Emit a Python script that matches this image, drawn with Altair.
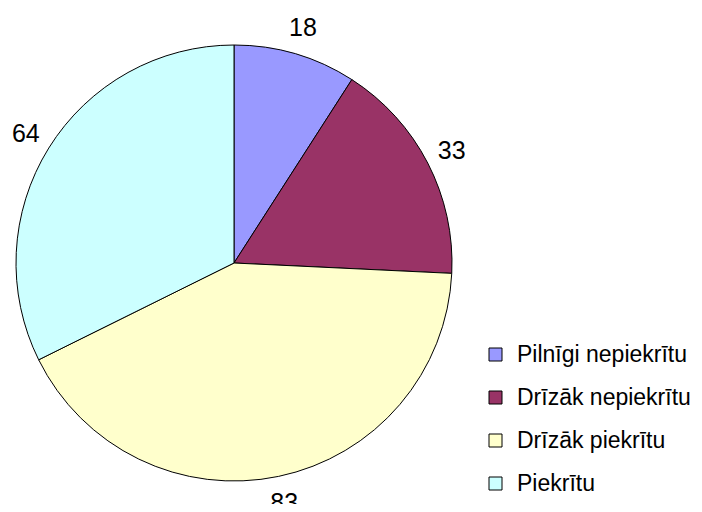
import altair as alt
import pandas as pd

categories = ["Pilnīgi nepiekrītu", "Drīzāk nepiekrītu", "Drīzāk piekrītu", "Piekrītu"]
values = [18, 33, 83, 64]
colors = ["#9999FF", "#993366", "#FFFFCC", "#CCFFFF"]

df = pd.DataFrame({"cat": categories, "val": values, "ord": list(range(len(values)))})

cx, cy, R = 226, 255, 218

base = alt.Chart(df).encode(
    theta=alt.Theta("val:Q", stack=True),
    order=alt.Order("ord:Q"),
)

pie = base.mark_arc(outerRadius=R, stroke="black", strokeWidth=1).encode(
    x=alt.value(cx),
    y=alt.value(cy),
    color=alt.Color(
        "cat:N",
        scale=alt.Scale(domain=categories, range=colors),
        sort=categories,
        legend=alt.Legend(
            title=None,
            orient="none",
            legendX=476,
            legendY=335,
            symbolType="square",
            symbolSize=169,
            symbolStrokeColor="black",
            symbolStrokeWidth=1,
            symbolOpacity=1,
            labelFont="Liberation Sans",
            labelFontSize=23,
            labelColor="black",
            rowPadding=19,
            labelOffset=10,
            labelLimit=400,
        ),
    ),
)

labels = base.mark_text(
    radius=245, font="Liberation Sans", fontSize=25, color="black",
    align="center", baseline="middle",
).encode(
    x=alt.value(cx),
    y=alt.value(cy),
    text=alt.Text("val:Q"),
)

chart = (
    alt.layer(pie, labels)
    .properties(width=686, height=496, autosize=alt.AutoSizeParams(type="none"), padding=0)
    .configure_view(stroke=None)
)

chart.save("out.html", embed_options={"renderer": "svg", "actions": False})
